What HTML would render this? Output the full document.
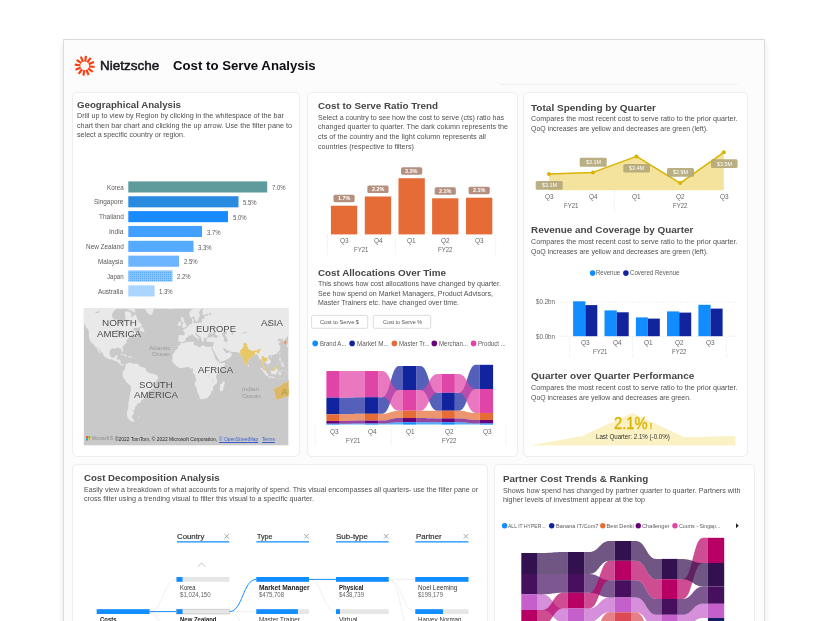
<!DOCTYPE html>
<html><head><meta charset="utf-8"><title>Cost to Serve Analysis</title>
<style>
html,body{margin:0;padding:0;background:#fff;}
body{width:828px;height:621px;overflow:hidden;position:relative;font-family:"Liberation Sans",sans-serif;}
#gfx,#txt{position:absolute;left:0;top:0;width:828px;height:621px;}
#txt{transform:translateZ(0);}
.t{position:absolute;white-space:nowrap;line-height:1;transform-origin:0 0;}
.frame{position:absolute;left:63px;top:39px;width:700px;height:620px;background:#fcfcfc;border:1px solid #d9dde1;box-shadow:0 3px 6px rgba(0,0,0,.10);}
.card{position:absolute;background:#fff;border:1px solid #eeeeee;border-radius:5px;box-sizing:border-box;}
svg{position:absolute;left:0;top:0;overflow:visible;}
</style></head>
<body>
<div id="gfx">
<div class="frame"></div>
<div style="position:absolute;left:497px;top:70px;width:242px;height:15px;border-bottom:1px solid #efefef;border-radius:0 0 5px 5px;box-sizing:border-box;"></div>
<div class="card" style="left:72px;top:92px;width:227.5px;height:365px"></div>
<div class="card" style="left:307px;top:92px;width:210.5px;height:365px"></div>
<div class="card" style="left:523px;top:92px;width:225px;height:365px"></div>
<div class="card" style="left:71.5px;top:464px;width:416.0px;height:236px"></div>
<div class="card" style="left:494px;top:464px;width:260.5px;height:236px"></div>
<svg width="828" height="621" viewBox="0 0 828 621"><defs><pattern id="dots" width="2" height="2" patternUnits="userSpaceOnUse"><rect width="2" height="2" fill="#86c3ff"/><rect width="1" height="1" fill="#5aa9f5"/></pattern></defs><rect x="128.30" y="181.40" width="138.90" height="11.10" fill="#5f9b9c" /><rect x="128.30" y="196.25" width="110.20" height="11.10" fill="#298be0" /><rect x="128.30" y="211.10" width="99.70" height="11.10" fill="#1a8aff" /><rect x="128.30" y="225.95" width="73.70" height="11.10" fill="#41a0ff" /><rect x="128.30" y="240.80" width="65.20" height="11.10" fill="#55abff" /><rect x="128.30" y="255.65" width="50.70" height="11.10" fill="#6db6ff" /><rect x="128.30" y="270.50" width="44.10" height="11.10" fill="url(#dots)" /><rect x="128.30" y="285.35" width="26.30" height="11.10" fill="#a9d5ff" /><clipPath id="mapclip"><rect x="83.6" y="308.3" width="205.00000000000003" height="137.3"/></clipPath><g clip-path="url(#mapclip)"><rect x="83.6" y="308.3" width="205.00000000000003" height="137.3" fill="#c9c9c9"/><path d="M83.6 304.1L83.6 322.0L85.9 327.0L88.6 329.9L89.0 336.8L90.6 341.7L93.7 344.4L94.5 345.8L96.4 348.0L98.4 351.4L99.9 353.9L100.3 353.0L98.4 349.3L96.4 346.7L97.6 347.1L99.9 350.5L103.0 353.9L103.8 356.3L106.9 358.3L110.0 359.6L112.4 359.4L113.9 360.6L117.4 361.8L119.0 363.3L120.2 364.8L122.5 366.0L124.1 364.8L125.2 365.6L125.6 364.8L123.7 364.3L121.7 364.8L120.6 363.3L120.7 360.2L119.4 359.4L116.7 359.6L117.0 357.5L117.8 355.1L115.3 355.5L114.7 357.3L112.0 357.7L110.8 356.7L109.5 354.3L109.9 351.4L110.8 349.3L112.4 348.2L114.7 348.6L115.9 348.7L116.3 347.7L119.0 348.0L120.2 348.0L121.2 349.7L121.9 351.4L122.9 352.0L123.3 350.5L122.3 347.5L122.9 346.0L125.2 344.0L126.6 342.9L126.4 340.7L128.0 338.5L130.3 337.3L131.1 336.8L130.5 335.8L131.8 334.5L133.4 333.9L135.4 334.2L138.1 333.2L138.1 332.1L135.4 332.1L135.0 330.4L132.6 329.6L134.2 327.9L138.9 327.8L142.0 325.8L141.6 323.9L138.9 321.7L137.3 318.6L135.4 314.2L132.6 316.7L131.1 316.4L131.5 313.4L128.7 311.4L124.8 311.4L125.2 315.0L125.6 317.9L124.1 322.0L123.3 326.6L121.7 324.5L121.3 322.0L119.0 321.3L116.7 319.7L113.5 319.3L112.0 316.4L112.4 313.4L114.7 310.2L117.8 308.0L118.6 304.1Z" fill="#e9e9e9" /><path d="M125.2 365.6L126.8 363.4L129.5 362.5L129.9 363.3L131.1 362.5L132.6 363.7L135.7 363.7L137.3 363.5L138.9 365.2L141.2 367.1L145.1 367.8L146.6 371.6L148.2 372.4L151.3 373.5L154.4 373.9L156.8 375.2L158.3 376.9L157.9 378.8L156.4 380.7L155.2 383.0L154.8 385.3L153.7 388.5L150.9 389.5L148.2 391.4L147.7 393.9L145.9 396.1L143.9 398.8L141.6 399.7L141.0 401.1L140.4 403.0L137.3 403.4L136.5 405.4L135.0 406.9L134.6 409.5L133.0 411.1L134.2 412.8L131.8 416.2L132.2 418.1L134.6 421.0L132.6 421.9L129.5 419.9L127.6 417.4L126.8 412.8L128.3 408.4L128.3 403.4L129.1 399.7L129.9 395.2L130.8 390.2L130.9 385.7L128.7 384.2L126.4 382.2L124.4 379.1L122.5 376.1L122.9 373.9L122.7 372.4L123.3 370.8L124.8 369.7L125.4 367.8L125.2 365.6Z" fill="#e9e9e9" /><path d="M172.1 360.4L172.7 357.1L172.4 355.5L174.3 352.2L175.5 350.0L177.8 348.4L178.0 346.7L180.1 344.4L181.1 342.8L184.0 343.3L186.4 342.1L189.5 341.8L193.4 341.4L194.2 341.9L193.5 344.2L194.6 345.2L197.3 346.0L199.6 347.5L201.2 346.7L201.2 345.6L203.5 345.6L205.1 346.5L208.2 347.1L210.5 346.8L212.2 346.9L211.0 348.2L212.1 350.1L213.3 353.0L214.4 355.1L214.7 357.5L216.4 360.0L219.1 362.5L219.3 363.1L222.2 363.1L225.3 362.7L225.2 364.1L223.8 367.1L221.4 369.7L218.3 372.7L216.8 374.2L216.0 376.1L216.4 378.4L217.1 380.7L217.1 383.0L214.4 385.3L212.9 386.9L213.3 390.2L211.3 391.6L211.1 393.5L209.7 395.2L207.4 397.9L205.5 398.8L202.7 398.9L201.2 399.5L199.9 398.8L199.6 397.0L198.5 393.9L197.3 392.2L196.9 388.5L194.9 384.9L194.9 382.6L196.3 379.9L195.7 378.0L195.1 376.1L194.6 374.6L192.6 372.4L193.0 370.5L193.2 369.0L192.4 368.2L190.3 368.4L189.1 366.9L186.4 367.1L184.0 367.8L182.5 367.7L179.8 368.3L178.2 367.1L175.9 365.7L175.1 364.4L173.9 363.3L172.5 362.1L172.1 360.4Z" fill="#e9e9e9" /><path d="M224.0 380.7L224.9 383.4L224.2 384.9L222.6 391.0L221.0 391.4L219.6 389.8L220.1 386.9L219.9 384.5L221.8 383.4L223.0 381.8Z" fill="#e9e9e9" /><path d="M178.6 341.7L178.2 340.1L178.7 337.8L178.4 335.8L179.4 335.1L182.5 335.3L184.3 335.4L184.7 332.6L183.7 331.2L181.9 330.1L184.4 329.6L184.2 328.5L185.8 328.7L186.9 327.1L188.3 326.5L189.3 324.5L191.1 323.9L192.4 323.4L192.0 321.3L192.0 319.3L193.8 318.3L193.5 320.6L193.2 322.0L194.0 323.3L195.3 322.9L196.7 323.4L198.5 322.6L200.0 322.4L201.0 322.7L202.0 321.7L202.0 319.3L202.7 318.4L204.3 319.0L204.5 317.5L203.9 316.2L205.9 315.7L207.4 315.7L209.0 315.1L207.8 314.1L205.9 314.4L203.5 315.1L202.3 313.9L202.3 311.1L203.1 309.2L205.1 306.8L205.3 305.7L203.0 305.4L202.2 307.5L200.4 309.9L199.1 311.9L199.0 313.8L200.2 315.0L199.9 316.2L198.6 317.2L198.4 319.7L197.9 320.6L196.7 321.4L195.6 321.4L195.3 320.2L194.8 318.6L194.3 316.4L193.8 316.0L193.0 316.7L191.4 317.9L190.0 316.9L189.5 315.0L189.5 311.9L191.1 310.2L193.0 308.9L194.2 306.8L195.3 304.1L288.4 304.1L288.4 335.6L287.3 336.3L286.6 337.8L284.9 339.1L286.3 341.7L286.3 343.3L284.9 343.9L284.0 343.8L284.2 341.7L283.0 340.9L283.1 339.3L282.4 338.8L280.4 339.8L280.2 338.1L278.3 339.6L277.3 340.1L278.3 341.4L279.6 340.9L281.0 341.7L279.5 342.6L278.5 343.5L279.5 345.3L280.5 347.1L280.0 347.7L280.6 348.4L279.9 349.7L278.8 351.6L277.5 352.8L276.4 353.9L274.4 354.4L272.8 354.9L271.5 355.5L271.3 356.0L270.9 355.2L269.7 355.1L268.6 356.0L267.9 357.2L269.0 358.9L270.4 360.0L270.7 361.8L270.5 362.9L269.0 363.8L267.6 365.0L267.2 363.8L265.8 363.3L265.6 362.4L264.3 362.0L263.9 361.4L263.5 361.5L263.0 363.3L263.0 364.6L263.7 365.6L264.3 366.5L265.3 367.0L266.1 368.1L266.2 369.6L266.8 370.5L266.2 370.6L265.4 370.1L264.5 369.4L263.8 367.8L263.7 366.7L262.7 365.7L262.2 365.6L262.3 363.7L262.6 362.5L261.9 361.0L261.8 359.4L261.2 358.7L259.8 359.6L259.1 359.4L259.2 357.9L258.6 356.5L257.5 355.6L257.0 354.3L256.1 354.2L254.9 354.7L253.4 355.2L253.0 356.1L251.8 356.7L249.7 359.0L248.2 359.6L248.1 361.5L247.8 363.8L247.1 364.6L246.5 365.0L246.0 365.5L245.2 364.8L244.6 363.1L243.8 361.4L242.9 359.4L242.4 357.1L242.2 355.5L240.8 355.6L239.4 354.4L238.8 353.4L238.0 352.6L237.4 351.9L233.5 352.1L230.2 351.7L229.8 350.5L228.2 350.9L226.5 350.1L225.2 348.8L223.8 347.7L223.0 348.1L223.5 349.4L224.6 350.8L224.8 351.8L225.7 351.5L225.8 352.9L227.7 352.9L229.5 351.2L229.6 352.6L231.2 353.4L232.2 354.3L231.2 356.0L230.5 357.1L228.6 358.5L226.3 359.4L223.8 360.8L220.7 361.8L219.5 362.0L218.9 360.0L217.5 357.5L216.0 355.1L214.7 352.6L212.9 349.7L212.7 348.4L212.3 346.8L213.3 344.9L213.6 342.6L213.6 341.9L212.1 342.3L210.5 342.1L209.4 341.9L208.2 342.1L206.9 341.7L206.1 340.2L206.4 339.3L206.0 338.7L208.2 338.3L208.3 337.6L210.0 337.5L211.7 336.8L213.0 336.8L214.0 337.5L215.6 337.9L217.9 337.3L217.9 336.1L216.5 335.2L214.8 334.0L215.4 332.6L216.2 331.3L214.8 331.9L213.1 332.3L213.3 333.4L211.7 334.2L211.7 332.6L210.3 331.9L209.2 332.8L208.6 333.7L208.0 335.0L207.4 336.8L207.6 337.5L207.3 337.9L205.9 338.1L204.3 337.9L203.9 338.6L203.3 338.4L203.8 339.8L204.3 340.7L203.5 341.2L203.4 342.1L202.5 341.9L202.1 340.7L201.2 339.2L200.6 337.0L200.0 336.3L198.1 335.3L196.9 333.5L196.2 333.0L195.2 333.4L195.2 334.4L196.3 335.3L198.1 336.9L200.0 338.6L198.8 338.3L198.5 339.9L198.1 340.7L197.8 338.8L196.9 338.1L195.3 337.3L193.8 335.9L193.4 334.8L192.4 334.3L191.4 335.0L190.4 335.7L188.7 335.3L188.0 336.3L188.1 337.0L186.1 338.0L185.4 339.3L185.8 340.0L185.1 341.0L184.0 341.9L182.1 342.0L181.4 342.5L180.7 342.0L179.8 341.5L178.6 341.7Z" fill="#e9e9e9" /><path d="M181.2 328.0L182.9 327.8L184.8 327.3L186.7 326.7L186.1 326.2L186.9 324.9L185.8 324.5L185.4 323.3L184.4 322.0L184.0 320.6L183.4 320.0L184.0 318.3L182.5 318.4L183.1 317.0L181.7 317.0L180.8 318.6L181.2 320.2L181.7 321.3L181.9 322.2L183.1 322.1L183.3 323.9L182.1 324.3L182.3 325.4L181.5 326.0L183.1 326.5L182.3 327.0L181.2 328.0Z" fill="#e9e9e9" /><path d="M177.8 326.1L179.4 326.1L180.7 325.5L180.9 323.9L181.2 322.5L180.0 321.6L179.0 322.4L177.8 323.0L178.4 324.5L177.8 326.1Z" fill="#e9e9e9" /><path d="M166.9 305.9L168.1 308.2L170.0 309.4L172.4 309.2L174.7 307.7L174.3 305.0L172.4 304.5L169.2 305.0L167.7 304.3Z" fill="#e9e9e9" /><path d="M143.5 304.1L144.7 306.8L145.9 310.2L147.4 313.0L150.5 315.1L152.1 314.5L152.9 311.9L154.1 308.6L156.0 305.7L158.3 304.1Z" fill="#e9e9e9" /><path d="M135.4 312.7L134.6 310.2L136.5 306.8L137.3 304.1L128.0 304.1L128.3 306.8L125.6 307.7L128.0 309.4L131.1 310.6L133.4 311.9Z" fill="#e9e9e9" /><path d="M274.4 388.5L274.0 390.6L274.6 392.7L275.2 395.2L275.7 397.0L275.2 399.0L277.1 399.8L279.1 398.8L281.8 398.8L283.8 397.2L286.1 396.7L288.0 396.5L289.2 397.0L289.2 380.5L288.4 380.1L287.3 381.1L286.5 382.8L285.3 382.8L284.1 382.2L283.0 383.4L281.8 384.8L280.8 385.3L280.2 386.5L278.3 386.9L276.4 387.5L274.4 388.5Z" fill="#e9e9e9" /><path d="M259.8 367.5L261.6 367.7L263.5 369.7L266.2 371.6L267.0 373.5L268.2 374.0L268.0 376.0L267.0 376.0L265.3 374.6L263.9 372.7L262.5 370.5L261.2 369.3Z" fill="#e9e9e9" /><path d="M267.6 376.7L268.6 376.1L270.1 376.6L271.9 376.4L273.4 376.9L274.8 377.5L274.8 378.1L272.1 377.9L269.7 377.5L268.4 377.2Z" fill="#e9e9e9" /><path d="M270.5 370.5L271.1 370.1L272.3 369.9L273.6 369.2L274.4 368.1L275.6 367.5L276.6 366.3L277.3 366.9L278.5 367.7L277.5 368.4L277.4 369.0L277.5 370.1L278.3 370.8L277.4 371.1L277.1 372.4L276.4 373.1L276.2 374.5L274.9 374.7L273.6 374.0L272.7 374.2L271.4 373.8L271.3 372.7L270.6 371.8Z" fill="#e9e9e9" /><path d="M278.7 375.8L278.7 374.2L278.1 373.6L278.9 371.6L279.7 370.6L282.2 370.8L283.1 370.4L282.6 371.3L279.9 371.2L279.1 372.2L280.1 372.4L281.6 372.3L280.5 373.0L281.3 374.8L280.9 375.3L280.2 375.1L279.9 373.6L279.3 373.9L279.4 375.8Z" fill="#e9e9e9" /><path d="M279.5 357.5L280.8 357.5L280.8 359.2L280.2 360.4L281.3 361.1L282.2 362.1L281.7 361.7L280.5 361.2L279.6 361.1L279.5 360.4L279.1 359.3Z" fill="#e9e9e9" /><path d="M280.7 366.3L281.8 365.1L283.4 364.3L284.1 365.6L284.1 366.9L283.3 367.3L283.1 366.3L282.2 366.0L281.4 366.0Z" fill="#e9e9e9" /><path d="M280.6 362.7L281.6 362.9L283.4 362.3L283.2 363.8L282.2 364.1L281.4 364.7L281.0 364.1Z" fill="#e9e9e9" /><path d="M276.9 365.3L278.7 363.7L278.7 363.1L277.9 363.9Z" fill="#e9e9e9" /><path d="M279.9 352.0L280.6 352.3L279.8 354.7L279.2 353.9Z" fill="#e9e9e9" /><path d="M270.3 356.9L271.1 356.2L272.1 356.4L271.6 357.5L270.5 357.6Z" fill="#e9e9e9" /><path d="M247.8 364.3L248.9 365.2L249.3 366.3L248.4 367.1L247.8 366.3Z" fill="#e9e9e9" /><path d="M281.8 379.4L283.0 378.4L284.7 377.9L283.0 379.1Z" fill="#e9e9e9" /><path d="M276.0 377.9L278.3 377.9L281.4 377.9L281.3 378.2L278.3 378.3L276.0 378.3Z" fill="#e9e9e9" /><path d="M287.5 372.2L288.6 371.9L289.2 372.2L289.2 374.2L288.4 373.7L287.6 372.7Z" fill="#e9e9e9" /><path d="M286.6 345.1L287.6 344.4L289.2 344.2L289.2 345.3L288.3 346.9L287.0 346.9L287.0 345.8Z" fill="#e9e9e9" /><path d="M284.9 370.2L285.9 370.5L285.5 372.2L285.1 371.8Z" fill="#e9e9e9" /><path d="M285.3 373.9L287.5 374.0L286.5 374.4Z" fill="#e9e9e9" /><path d="M119.4 354.7L121.7 353.7L123.7 354.3L125.6 355.1L127.8 356.1L125.2 356.4L124.8 355.7L122.9 354.7L120.9 354.7Z" fill="#e9e9e9" /><path d="M127.6 356.4L129.5 356.4L131.1 356.6L132.3 357.4L130.3 357.7L128.3 357.6L127.6 357.4L129.1 357.4Z" fill="#e9e9e9" /><path d="M124.6 357.5L126.2 357.7L125.5 358.0Z" fill="#e9e9e9" /><path d="M133.3 357.5L134.4 357.6L133.4 357.9Z" fill="#e9e9e9" /><path d="M139.4 330.8L142.0 331.5L144.3 331.9L144.5 330.8L143.5 328.7L142.2 326.4L141.0 327.3L140.0 329.3Z" fill="#e9e9e9" /><path d="M137.7 416.8L140.4 416.8L139.2 417.8Z" fill="#e9e9e9" /><path d="M222.2 333.5L223.8 331.9L225.7 331.5L226.9 332.1L226.9 333.7L225.6 334.2L224.8 335.3L225.7 336.3L226.7 337.1L226.9 338.8L227.7 339.8L227.5 341.4L226.1 342.0L224.6 341.4L223.8 340.2L224.2 338.3L222.6 335.8Z" fill="#c9c9c9" /><path d="M113.9 331.9L115.9 330.4L117.0 329.6L119.0 330.5L119.8 332.1L117.8 332.2L115.5 331.9Z" fill="#c9c9c9" /><path d="M117.2 337.1L118.2 337.0L118.6 334.8L119.4 332.8L118.6 332.7L117.4 334.2Z" fill="#c9c9c9" /><path d="M119.8 332.6L120.9 332.4L122.9 332.8L123.3 334.1L122.0 334.2L121.4 335.8L120.6 335.1L120.7 333.7Z" fill="#c9c9c9" /><path d="M120.7 337.2L122.5 337.2L124.1 336.1L123.7 335.7L126.2 335.3L126.0 334.6L123.7 335.1L123.3 335.6L120.9 336.5Z" fill="#c9c9c9" /><path d="M108.5 323.9L110.4 327.6L110.0 327.8L108.9 325.8Z" fill="#c9c9c9" /><path d="M94.5 313.0L97.6 311.6L99.9 310.7L98.4 313.1Z" fill="#c9c9c9" /><path d="M89.0 305.9L92.1 304.5L93.7 306.5L91.3 307.2Z" fill="#c9c9c9" /><path d="M209.0 313.4L210.9 312.4L211.3 314.2L209.7 315.0Z" fill="#c9c9c9" /><path d="M210.5 371.2L212.1 371.4L212.1 373.5L210.5 373.5Z" fill="#c9c9c9" /><path d="M208.4 374.2L209.4 378.0L209.7 378.0L208.8 374.2Z" fill="#c9c9c9" /><path d="M212.1 378.8L212.5 382.2L213.0 382.2L212.6 378.8Z" fill="#c9c9c9" /><path d="M266.6 324.5L270.9 321.0L271.3 322.0L267.8 326.1L266.6 326.4Z" fill="#c9c9c9" /><path d="M231.6 332.1L233.1 332.1L233.1 334.8L231.6 334.8Z" fill="#c9c9c9" /><path d="M243.2 331.9L247.1 332.1L247.1 332.6L243.2 333.2Z" fill="#c9c9c9" /><path d="M238.8 353.4L239.4 354.4L240.8 355.6L242.2 355.5L242.4 357.1L242.9 359.4L243.8 361.4L244.6 363.1L245.2 364.8L246.0 365.5L246.5 365.0L247.1 364.6L247.8 363.8L248.1 361.5L248.2 359.6L249.7 359.0L251.8 356.7L253.0 356.1L253.4 355.2L254.9 354.7L254.9 352.0L255.7 352.0L257.3 352.2L257.7 353.9L258.4 353.9L259.2 352.2L259.6 350.5L261.2 350.1L261.2 349.4L260.0 348.7L258.0 349.7L257.3 350.0L257.0 350.7L255.6 350.8L254.9 350.3L254.2 349.8L254.2 351.0L252.2 351.0L251.0 350.1L248.7 349.4L247.9 348.8L248.7 347.7L247.1 346.8L246.9 345.6L247.5 345.3L246.8 344.0L245.6 343.0L243.6 343.3L243.1 344.3L243.9 345.6L243.6 346.7L242.5 348.0L241.3 349.7L240.1 350.0L239.8 350.7L240.4 351.6L240.7 352.8L239.2 352.8Z" fill="#e8c766" /><path d="M261.6 357.5L261.9 356.5L263.5 356.0L264.0 356.7L264.4 356.7L264.4 358.1L265.1 357.7L266.1 357.5L267.2 358.3L267.2 359.2L267.9 359.7L267.6 360.7L265.8 360.8L265.4 361.3L265.7 362.4L265.6 362.4L264.3 362.0L263.9 361.4L263.5 361.5L263.0 363.3L263.0 364.6L263.7 365.6L264.3 366.5L265.1 366.9L264.4 367.3L263.7 366.7L262.7 365.7L262.2 365.6L262.3 363.7L262.6 362.5L262.9 361.8L262.1 360.2L262.4 359.0L261.6 357.5Z" fill="#e8c766" /><path d="M263.7 366.7L264.4 367.3L265.1 366.9L265.3 367.0L266.1 368.1L266.2 369.6L266.8 370.5L266.2 370.6L265.4 370.1L264.5 369.4L263.8 367.8Z" fill="#e8c766" /><path d="M271.0 370.2L272.3 369.9L273.6 369.2L274.4 368.1L275.6 367.5L276.6 366.3L277.3 366.9L278.5 367.7L277.5 368.4L276.0 368.4L275.6 369.3L274.9 370.5L273.6 370.5L272.7 370.8L271.7 370.9L271.0 370.6Z" fill="#e8c766" /><path d="M274.4 388.5L274.0 390.6L274.6 392.7L275.2 395.2L275.7 397.0L275.2 399.0L277.1 399.8L279.1 398.8L281.8 398.8L283.8 397.2L286.1 396.7L288.0 396.5L289.2 397.0L289.2 380.5L288.4 380.1L287.3 381.1L286.5 382.8L285.3 382.8L284.1 382.2L283.0 383.4L281.8 384.8L280.8 385.3L280.2 386.5L278.3 386.9L276.4 387.5L274.4 388.5Z" fill="#dcb765" /><path d="M284.0 343.8L284.9 343.9L286.3 343.3L286.3 341.7L285.5 340.2L284.3 340.8L284.2 341.7Z" fill="#ee8a55" /><circle cx="266.5" cy="370.6" r="0.8" fill="#e8c766"/></g><g clip-path="url(#mapclip)"><text x="281.3" y="394.8" font-family="Liberation Sans" font-size="9.6" fill="#a59636">AUSTRALIA</text></g><rect x="86.00" y="436.20" width="2.00" height="2.00" fill="#f25022" /><rect x="88.30" y="436.20" width="2.00" height="2.00" fill="#7fba00" /><rect x="86.00" y="438.50" width="2.00" height="2.00" fill="#00a4ef" /><rect x="88.30" y="438.50" width="2.00" height="2.00" fill="#ffb900" /><rect x="330.90" y="205.70" width="26.30" height="28.70" fill="#e66c37" /><rect x="333.45" y="194.70" width="21.2" height="7.5" rx="1.6" fill="#b4917f"/><rect x="364.80" y="196.50" width="26.30" height="37.90" fill="#e66c37" /><rect x="367.35" y="185.50" width="21.2" height="7.5" rx="1.6" fill="#b4917f"/><rect x="398.50" y="178.20" width="26.30" height="56.20" fill="#e66c37" /><rect x="401.05" y="167.20" width="21.2" height="7.5" rx="1.6" fill="#b4917f"/><rect x="432.10" y="198.30" width="26.30" height="36.10" fill="#e66c37" /><rect x="434.65" y="187.30" width="21.2" height="7.5" rx="1.6" fill="#b4917f"/><rect x="466.00" y="197.70" width="26.30" height="36.70" fill="#e66c37" /><rect x="468.55" y="186.70" width="21.2" height="7.5" rx="1.6" fill="#b4917f"/><line x1="327.5" y1="235" x2="327.5" y2="256.5" stroke="#d6d6d6" stroke-width="0.7" stroke-dasharray="0.8 1.6"/><line x1="395.4" y1="235" x2="395.4" y2="256.5" stroke="#d6d6d6" stroke-width="0.7" stroke-dasharray="0.8 1.6"/><line x1="495.7" y1="235" x2="495.7" y2="256.5" stroke="#d6d6d6" stroke-width="0.7" stroke-dasharray="0.8 1.6"/><rect x="311.6" y="315.4" width="56.099999999999966" height="12.9" rx="1.5" fill="#fff" stroke="#cfcfcf" stroke-width="0.7"/><rect x="373.3" y="315.4" width="57.39999999999998" height="12.9" rx="1.5" fill="#fff" stroke="#cfcfcf" stroke-width="0.7"/><circle cx="315.2" cy="343.4" r="2.8" fill="#118dff"/><circle cx="352.1" cy="343.4" r="2.8" fill="#12239e"/><circle cx="394.4" cy="343.4" r="2.8" fill="#e66c37"/><circle cx="434.3" cy="343.4" r="2.8" fill="#6b007b"/><circle cx="473.6" cy="343.4" r="2.8" fill="#e044a7"/><path d="M339.70 423.70L343.73 423.70C352.30 423.70 352.30 423.50 360.87 423.50L364.90 423.50L364.90 424.60L360.87 424.60C352.30 424.60 352.30 424.60 343.73 424.60L339.70 424.60Z" fill="#118dff" fill-opacity="0.72"/><path d="M339.70 397.70L343.73 397.70C352.30 397.70 352.30 397.20 360.87 397.20L364.90 397.20L364.90 413.80L360.87 413.80C352.30 413.80 352.30 414.30 343.73 414.30L339.70 414.30Z" fill="#12239e" fill-opacity="0.72"/><path d="M339.70 414.30L343.73 414.30C352.30 414.30 352.30 413.80 360.87 413.80L364.90 413.80L364.90 420.60L360.87 420.60C352.30 420.60 352.30 421.00 343.73 421.00L339.70 421.00Z" fill="#e66c37" fill-opacity="0.72"/><path d="M339.70 421.00L343.73 421.00C352.30 421.00 352.30 420.60 360.87 420.60L364.90 420.60L364.90 423.50L360.87 423.50C352.30 423.50 352.30 423.70 343.73 423.70L339.70 423.70Z" fill="#6b007b" fill-opacity="0.72"/><path d="M339.70 371.00L343.73 371.00C352.30 371.00 352.30 371.00 360.87 371.00L364.90 371.00L364.90 397.20L360.87 397.20C352.30 397.20 352.30 397.70 343.73 397.70L339.70 397.70Z" fill="#e044a7" fill-opacity="0.72"/><path d="M378.20 423.50L382.17 423.50C390.60 423.50 390.60 422.30 399.03 422.30L403.00 422.30L403.00 424.60L399.03 424.60C390.60 424.60 390.60 424.60 382.17 424.60L378.20 424.60Z" fill="#118dff" fill-opacity="0.72"/><path d="M378.20 397.20L382.17 397.20C390.60 397.20 390.60 366.00 399.03 366.00L403.00 366.00L403.00 390.00L399.03 390.00C390.60 390.00 390.60 413.80 382.17 413.80L378.20 413.80Z" fill="#12239e" fill-opacity="0.72"/><path d="M378.20 413.80L382.17 413.80C390.60 413.80 390.60 410.70 399.03 410.70L403.00 410.70L403.00 418.00L399.03 418.00C390.60 418.00 390.60 420.60 382.17 420.60L378.20 420.60Z" fill="#e66c37" fill-opacity="0.72"/><path d="M378.20 420.60L382.17 420.60C390.60 420.60 390.60 418.00 399.03 418.00L403.00 418.00L403.00 422.30L399.03 422.30C390.60 422.30 390.60 423.50 382.17 423.50L378.20 423.50Z" fill="#6b007b" fill-opacity="0.72"/><path d="M378.20 371.00L382.17 371.00C390.60 371.00 390.60 390.00 399.03 390.00L403.00 390.00L403.00 410.70L399.03 410.70C390.60 410.70 390.60 397.20 382.17 397.20L378.20 397.20Z" fill="#e044a7" fill-opacity="0.72"/><path d="M416.30 422.30L420.33 422.30C428.90 422.30 428.90 422.30 437.47 422.30L441.50 422.30L441.50 424.60L437.47 424.60C428.90 424.60 428.90 424.60 420.33 424.60L416.30 424.60Z" fill="#118dff" fill-opacity="0.72"/><path d="M416.30 366.00L420.33 366.00C428.90 366.00 428.90 392.80 437.47 392.80L441.50 392.80L441.50 410.70L437.47 410.70C428.90 410.70 428.90 390.00 420.33 390.00L416.30 390.00Z" fill="#12239e" fill-opacity="0.72"/><path d="M416.30 410.70L420.33 410.70C428.90 410.70 428.90 410.70 437.47 410.70L441.50 410.70L441.50 418.40L437.47 418.40C428.90 418.40 428.90 418.00 420.33 418.00L416.30 418.00Z" fill="#e66c37" fill-opacity="0.72"/><path d="M416.30 418.00L420.33 418.00C428.90 418.00 428.90 418.40 437.47 418.40L441.50 418.40L441.50 422.30L437.47 422.30C428.90 422.30 428.90 422.30 420.33 422.30L416.30 422.30Z" fill="#6b007b" fill-opacity="0.72"/><path d="M416.30 390.00L420.33 390.00C428.90 390.00 428.90 374.00 437.47 374.00L441.50 374.00L441.50 392.80L437.47 392.80C428.90 392.80 428.90 410.70 420.33 410.70L416.30 410.70Z" fill="#e044a7" fill-opacity="0.72"/><path d="M454.80 422.30L458.80 422.30C467.30 422.30 467.30 423.50 475.80 423.50L479.80 423.50L479.80 424.60L475.80 424.60C467.30 424.60 467.30 424.60 458.80 424.60L454.80 424.60Z" fill="#118dff" fill-opacity="0.72"/><path d="M454.80 392.80L458.80 392.80C467.30 392.80 467.30 364.80 475.80 364.80L479.80 364.80L479.80 389.00L475.80 389.00C467.30 389.00 467.30 410.70 458.80 410.70L454.80 410.70Z" fill="#12239e" fill-opacity="0.72"/><path d="M454.80 410.70L458.80 410.70C467.30 410.70 467.30 413.00 475.80 413.00L479.80 413.00L479.80 420.00L475.80 420.00C467.30 420.00 467.30 418.40 458.80 418.40L454.80 418.40Z" fill="#e66c37" fill-opacity="0.72"/><path d="M454.80 418.40L458.80 418.40C467.30 418.40 467.30 420.00 475.80 420.00L479.80 420.00L479.80 423.50L475.80 423.50C467.30 423.50 467.30 422.30 458.80 422.30L454.80 422.30Z" fill="#6b007b" fill-opacity="0.72"/><path d="M454.80 374.00L458.80 374.00C467.30 374.00 467.30 389.00 475.80 389.00L479.80 389.00L479.80 413.00L475.80 413.00C467.30 413.00 467.30 392.80 458.80 392.80L454.80 392.80Z" fill="#e044a7" fill-opacity="0.72"/><rect x="326.40" y="371.00" width="13.30" height="26.70" fill="#e044a7"/><rect x="326.40" y="397.70" width="13.30" height="16.60" fill="#12239e"/><rect x="326.40" y="414.30" width="13.30" height="6.70" fill="#e66c37"/><rect x="326.40" y="421.00" width="13.30" height="2.70" fill="#6b007b"/><rect x="326.40" y="423.70" width="13.30" height="0.90" fill="#118dff"/><rect x="364.90" y="371.00" width="13.30" height="26.20" fill="#e044a7"/><rect x="364.90" y="397.20" width="13.30" height="16.60" fill="#12239e"/><rect x="364.90" y="413.80" width="13.30" height="6.80" fill="#e66c37"/><rect x="364.90" y="420.60" width="13.30" height="2.90" fill="#6b007b"/><rect x="364.90" y="423.50" width="13.30" height="1.10" fill="#118dff"/><rect x="403.00" y="366.00" width="13.30" height="24.00" fill="#12239e"/><rect x="403.00" y="390.00" width="13.30" height="20.70" fill="#e044a7"/><rect x="403.00" y="410.70" width="13.30" height="7.30" fill="#e66c37"/><rect x="403.00" y="418.00" width="13.30" height="4.30" fill="#6b007b"/><rect x="403.00" y="422.30" width="13.30" height="2.30" fill="#118dff"/><rect x="441.50" y="374.00" width="13.30" height="18.80" fill="#e044a7"/><rect x="441.50" y="392.80" width="13.30" height="17.90" fill="#12239e"/><rect x="441.50" y="410.70" width="13.30" height="7.70" fill="#e66c37"/><rect x="441.50" y="418.40" width="13.30" height="3.90" fill="#6b007b"/><rect x="441.50" y="422.30" width="13.30" height="2.30" fill="#118dff"/><rect x="479.80" y="364.80" width="13.30" height="24.20" fill="#12239e"/><rect x="479.80" y="389.00" width="13.30" height="24.00" fill="#e044a7"/><rect x="479.80" y="413.00" width="13.30" height="7.00" fill="#e66c37"/><rect x="479.80" y="420.00" width="13.30" height="3.50" fill="#6b007b"/><rect x="479.80" y="423.50" width="13.30" height="1.10" fill="#118dff"/><line x1="315" y1="425.5" x2="315" y2="446" stroke="#d6d6d6" stroke-width="0.7" stroke-dasharray="0.8 1.6"/><line x1="391.3" y1="425.5" x2="391.3" y2="446" stroke="#d6d6d6" stroke-width="0.7" stroke-dasharray="0.8 1.6"/><line x1="506" y1="425.5" x2="506" y2="446" stroke="#d6d6d6" stroke-width="0.7" stroke-dasharray="0.8 1.6"/><path d="M548.9 174L592.9 172.4L636.5 156.4L680.2 183.1L723.8 152.3L723.8 190.3L548.9 190.3Z" fill="#f3e39c"/><path d="M548.9 174L592.9 172.4L636.5 156.4L680.2 183.1L723.8 152.3" fill="none" stroke="#d9b300" stroke-width="1.5" stroke-linejoin="round"/><circle cx="548.9" cy="174" r="2" fill="#d9b300"/><circle cx="592.9" cy="172.4" r="2" fill="#d9b300"/><circle cx="636.5" cy="156.4" r="2" fill="#d9b300"/><circle cx="680.2" cy="183.1" r="2" fill="#d9b300"/><circle cx="723.8" cy="152.3" r="2" fill="#d9b300"/><rect x="535.7" y="180.9" width="27.0" height="8.799999999999983" rx="1.5" fill="#b3a878" fill-opacity="0.92"/><rect x="579.7" y="157.8" width="27.0" height="9.0" rx="1.5" fill="#b3a878" fill-opacity="0.92"/><rect x="623.3" y="163.9" width="26.700000000000045" height="8.699999999999989" rx="1.5" fill="#b3a878" fill-opacity="0.92"/><rect x="667" y="168" width="27" height="8.800000000000011" rx="1.5" fill="#b3a878" fill-opacity="0.92"/><rect x="711" y="159.2" width="26.600000000000023" height="8.700000000000017" rx="1.5" fill="#b3a878" fill-opacity="0.92"/><line x1="614.6" y1="191" x2="614.6" y2="212" stroke="#d6d6d6" stroke-width="0.7" stroke-dasharray="0.8 1.6"/><circle cx="592.6" cy="273.1" r="2.8" fill="#118dff"/><circle cx="625.9" cy="273.1" r="2.8" fill="#12239e"/><line x1="560" y1="302" x2="737.6" y2="302" stroke="#d6d6d6" stroke-width="0.7" stroke-dasharray="0.8 1.6"/><line x1="560" y1="336.2" x2="737.6" y2="336.2" stroke="#d6d6d6" stroke-width="0.7" stroke-dasharray="0.8 1.6"/><rect x="573.10" y="301.30" width="12.30" height="34.90" fill="#118dff" /><rect x="585.40" y="305.10" width="11.90" height="31.10" fill="#12239e" /><rect x="604.50" y="310.40" width="12.30" height="25.80" fill="#118dff" /><rect x="616.80" y="312.30" width="11.90" height="23.90" fill="#12239e" /><rect x="635.90" y="317.40" width="11.90" height="18.80" fill="#118dff" /><rect x="647.80" y="318.60" width="12.00" height="17.60" fill="#12239e" /><rect x="667.00" y="311.40" width="12.20" height="24.80" fill="#118dff" /><rect x="679.20" y="312.60" width="12.00" height="23.60" fill="#12239e" /><rect x="698.40" y="304.80" width="12.20" height="31.40" fill="#118dff" /><rect x="710.60" y="308.60" width="12.00" height="27.60" fill="#12239e" /><line x1="569.7" y1="337" x2="569.7" y2="358" stroke="#d6d6d6" stroke-width="0.7" stroke-dasharray="0.8 1.6"/><line x1="632.4" y1="337" x2="632.4" y2="358" stroke="#d6d6d6" stroke-width="0.7" stroke-dasharray="0.8 1.6"/><line x1="726.6" y1="337" x2="726.6" y2="358" stroke="#d6d6d6" stroke-width="0.7" stroke-dasharray="0.8 1.6"/><path d="M530.4 445.4L582.2 436L632.4 413L684.3 437.3L735.4 436L735.4 445.4Z" fill="#faf1c4"/><line x1="177" y1="541.9" x2="229.3" y2="541.9" stroke="#118dff" stroke-width="1.1"/><path d="M224.4 534L229.00000000000003 538.6M229.00000000000003 534L224.4 538.6" stroke="#8c8c8c" stroke-width="0.75" fill="none"/><line x1="256.3" y1="541.9" x2="309" y2="541.9" stroke="#118dff" stroke-width="1.1"/><path d="M304.09999999999997 534L308.7 538.6M308.7 534L304.09999999999997 538.6" stroke="#8c8c8c" stroke-width="0.75" fill="none"/><line x1="336" y1="541.9" x2="388.7" y2="541.9" stroke="#118dff" stroke-width="1.1"/><path d="M383.79999999999995 534L388.4 538.6M388.4 534L383.79999999999995 538.6" stroke="#8c8c8c" stroke-width="0.75" fill="none"/><line x1="415.3" y1="541.9" x2="468.5" y2="541.9" stroke="#118dff" stroke-width="1.1"/><path d="M463.59999999999997 534L468.2 538.6M468.2 534L463.59999999999997 538.6" stroke="#8c8c8c" stroke-width="0.75" fill="none"/><path d="M197.8 566.9L201.6 562.9L205.4 566.9" stroke="#b5b5b5" stroke-width="0.8" fill="none"/><path d="M149.6 611.6C163.05 611.6 163.05 579.4 176.5 579.4" stroke="#e9e9e9" stroke-width="0.7" fill="none"/><path d="M149.6 611.6C163.05 611.6 163.05 643.8 176.5 643.8" stroke="#e9e9e9" stroke-width="0.7" fill="none"/><path d="M149.6 611.6C163.05 611.6 163.05 675.8 176.5 675.8" stroke="#e9e9e9" stroke-width="0.7" fill="none"/><path d="M229.4 611.6L256.3 611.6" stroke="#e9e9e9" stroke-width="0.7" fill="none"/><path d="M229.4 611.6C242.85000000000002 611.6 242.85000000000002 643.8 256.3 643.8" stroke="#e9e9e9" stroke-width="0.7" fill="none"/><path d="M309 579.4C322.5 579.4 322.5 611.6 336 611.6" stroke="#e9e9e9" stroke-width="0.7" fill="none"/><path d="M388.7 579.4L415.3 579.4" stroke="#e9e9e9" stroke-width="0.7" fill="none"/><path d="M388.7 579.4C402.0 579.4 402.0 611.6 415.3 611.6" stroke="#e9e9e9" stroke-width="0.7" fill="none"/><path d="M388.7 579.4C402.0 579.4 402.0 643.8 415.3 643.8" stroke="#e9e9e9" stroke-width="0.7" fill="none"/><path d="M149.6 611.6L176.5 611.6" stroke="#118dff" stroke-width="1.0" fill="none"/><path d="M229.4 611.6C242.85000000000002 611.6 242.85000000000002 579.4 256.3 579.4" stroke="#118dff" stroke-width="1.0" fill="none"/><path d="M309 579.4L336 579.4" stroke="#118dff" stroke-width="1.0" fill="none"/><rect x="176.50" y="577.00" width="52.90" height="4.80" fill="#e6e6e6" /><rect x="176.50" y="577.00" width="6.08" height="4.80" fill="#118dff" /><rect x="256.30" y="577.00" width="52.70" height="4.80" fill="#e6e6e6" /><rect x="256.30" y="577.00" width="52.70" height="4.80" fill="#118dff" /><rect x="336.00" y="577.00" width="52.70" height="4.80" fill="#e6e6e6" /><rect x="336.00" y="577.00" width="52.70" height="4.80" fill="#118dff" /><rect x="415.30" y="577.00" width="53.20" height="4.80" fill="#e6e6e6" /><rect x="415.30" y="577.00" width="53.20" height="4.80" fill="#118dff" /><rect x="96.70" y="609.20" width="52.90" height="4.80" fill="#e6e6e6" /><rect x="96.70" y="609.20" width="52.90" height="4.80" fill="#118dff" /><rect x="176.50" y="609.20" width="52.90" height="4.80" fill="#e6e6e6" stroke="#bdbdbd" stroke-width="0.6"/><rect x="176.50" y="609.20" width="6.08" height="4.80" fill="#118dff" /><rect x="256.30" y="609.20" width="52.70" height="4.80" fill="#e6e6e6" /><rect x="256.30" y="609.20" width="41.63" height="4.80" fill="#118dff" /><rect x="336.00" y="609.20" width="52.70" height="4.80" fill="#e6e6e6" /><rect x="336.00" y="609.20" width="3.95" height="4.80" fill="#118dff" /><rect x="415.30" y="609.20" width="53.20" height="4.80" fill="#e6e6e6" /><rect x="415.30" y="609.20" width="27.66" height="4.80" fill="#118dff" /><circle cx="504.6" cy="525.7" r="2.7" fill="#118dff"/><circle cx="551.7" cy="525.7" r="2.7" fill="#12239e"/><circle cx="602.8" cy="525.7" r="2.7" fill="#e66c37"/><circle cx="638.3" cy="525.7" r="2.7" fill="#6b007b"/><circle cx="675" cy="525.7" r="2.7" fill="#e044a7"/><path d="M736 523.2L738.8 525.7L736 528.2Z" fill="#222"/><path d="M537.60 625.00L542.45 625.00C552.75 625.00 552.75 622.00 563.05 622.00L567.90 622.00L567.90 636.00L563.05 636.00C552.75 636.00 552.75 640.00 542.45 640.00L537.60 640.00Z" fill="#d98be0" fill-opacity="0.7"/><path d="M537.60 594.40L542.45 594.40C552.75 594.40 552.75 608.50 563.05 608.50L567.90 608.50L567.90 622.00L563.05 622.00C552.75 622.00 552.75 610.00 542.45 610.00L537.60 610.00Z" fill="#c45fcb" fill-opacity="0.7"/><path d="M537.60 574.00L542.45 574.00C552.75 574.00 552.75 574.00 563.05 574.00L567.90 574.00L567.90 592.80L563.05 592.80C552.75 592.80 552.75 594.40 542.45 594.40L537.60 594.40Z" fill="#46105f" fill-opacity="0.7"/><path d="M537.60 610.00L542.45 610.00C552.75 610.00 552.75 592.80 563.05 592.80L567.90 592.80L567.90 608.50L563.05 608.50C552.75 608.50 552.75 625.00 542.45 625.00L537.60 625.00Z" fill="#b80064" fill-opacity="0.7"/><path d="M537.60 553.00L542.45 553.00C552.75 553.00 552.75 552.00 563.05 552.00L567.90 552.00L567.90 574.00L563.05 574.00C552.75 574.00 552.75 574.00 542.45 574.00L537.60 574.00Z" fill="#33104f" fill-opacity="0.7"/><path d="M584.20 622.00L589.08 622.00C599.45 622.00 599.45 628.00 609.82 628.00L614.70 628.00L614.70 640.00L609.82 640.00C599.45 640.00 599.45 636.00 589.08 636.00L584.20 636.00Z" fill="#d98be0" fill-opacity="0.7"/><path d="M584.20 608.50L589.08 608.50C599.45 608.50 599.45 597.50 609.82 597.50L614.70 597.50L614.70 612.30L609.82 612.30C599.45 612.30 599.45 622.00 589.08 622.00L584.20 622.00Z" fill="#c45fcb" fill-opacity="0.7"/><path d="M584.20 636.00L589.08 636.00C599.45 636.00 599.45 612.30 609.82 612.30L614.70 612.30L614.70 628.00L609.82 628.00C599.45 628.00 599.45 650.00 589.08 650.00L584.20 650.00Z" fill="#dc4a56" fill-opacity="0.7"/><path d="M584.20 574.00L589.08 574.00C599.45 574.00 599.45 580.20 609.82 580.20L614.70 580.20L614.70 597.50L609.82 597.50C599.45 597.50 599.45 592.80 589.08 592.80L584.20 592.80Z" fill="#46105f" fill-opacity="0.7"/><path d="M584.20 592.80L589.08 592.80C599.45 592.80 599.45 560.80 609.82 560.80L614.70 560.80L614.70 580.20L609.82 580.20C599.45 580.20 599.45 608.50 589.08 608.50L584.20 608.50Z" fill="#b80064" fill-opacity="0.7"/><path d="M584.20 552.00L589.08 552.00C599.45 552.00 599.45 541.00 609.82 541.00L614.70 541.00L614.70 560.80L609.82 560.80C599.45 560.80 599.45 574.00 589.08 574.00L584.20 574.00Z" fill="#33104f" fill-opacity="0.7"/><path d="M631.00 628.00L635.86 628.00C646.20 628.00 646.20 628.00 656.54 628.00L661.40 628.00L661.40 640.00L656.54 640.00C646.20 640.00 646.20 640.00 635.86 640.00L631.00 640.00Z" fill="#d98be0" fill-opacity="0.7"/><path d="M631.00 597.50L635.86 597.50C646.20 597.50 646.20 614.80 656.54 614.80L661.40 614.80L661.40 628.00L656.54 628.00C646.20 628.00 646.20 612.30 635.86 612.30L631.00 612.30Z" fill="#c45fcb" fill-opacity="0.7"/><path d="M631.00 612.30L635.86 612.30C646.20 612.30 646.20 640.00 656.54 640.00L661.40 640.00L661.40 652.00L656.54 652.00C646.20 652.00 646.20 628.00 635.86 628.00L631.00 628.00Z" fill="#dc4a56" fill-opacity="0.7"/><path d="M631.00 580.20L635.86 580.20C646.20 580.20 646.20 599.00 656.54 599.00L661.40 599.00L661.40 614.80L656.54 614.80C646.20 614.80 646.20 597.50 635.86 597.50L631.00 597.50Z" fill="#46105f" fill-opacity="0.7"/><path d="M631.00 560.80L635.86 560.80C646.20 560.80 646.20 579.30 656.54 579.30L661.40 579.30L661.40 599.00L656.54 599.00C646.20 599.00 646.20 580.20 635.86 580.20L631.00 580.20Z" fill="#b80064" fill-opacity="0.7"/><path d="M631.00 541.00L635.86 541.00C646.20 541.00 646.20 558.90 656.54 558.90L661.40 558.90L661.40 579.30L656.54 579.30C646.20 579.30 646.20 560.80 635.86 560.80L631.00 560.80Z" fill="#33104f" fill-opacity="0.7"/><path d="M677.70 628.00L682.53 628.00C692.80 628.00 692.80 630.00 703.07 630.00L707.90 630.00L707.90 640.00L703.07 640.00C692.80 640.00 692.80 640.00 682.53 640.00L677.70 640.00Z" fill="#d98be0" fill-opacity="0.7"/><path d="M677.70 614.80L682.53 614.80C692.80 614.80 692.80 603.80 703.07 603.80L707.90 603.80L707.90 618.00L703.07 618.00C692.80 618.00 692.80 628.00 682.53 628.00L677.70 628.00Z" fill="#c45fcb" fill-opacity="0.7"/><path d="M677.70 599.00L682.53 599.00C692.80 599.00 692.80 586.50 703.07 586.50L707.90 586.50L707.90 603.80L703.07 603.80C692.80 603.80 692.80 614.80 682.53 614.80L677.70 614.80Z" fill="#46105f" fill-opacity="0.7"/><path d="M677.70 579.30L682.53 579.30C692.80 579.30 692.80 537.80 703.07 537.80L707.90 537.80L707.90 563.00L703.07 563.00C692.80 563.00 692.80 599.00 682.53 599.00L677.70 599.00Z" fill="#b80064" fill-opacity="0.7"/><path d="M677.70 558.90L682.53 558.90C692.80 558.90 692.80 563.00 703.07 563.00L707.90 563.00L707.90 586.50L703.07 586.50C692.80 586.50 692.80 579.30 682.53 579.30L677.70 579.30Z" fill="#33104f" fill-opacity="0.7"/><rect x="521.30" y="553.00" width="16.30" height="21.00" fill="#33104f"/><rect x="521.30" y="574.00" width="16.30" height="20.40" fill="#46105f"/><rect x="521.30" y="594.40" width="16.30" height="15.60" fill="#c45fcb"/><rect x="521.30" y="610.00" width="16.30" height="15.00" fill="#b80064"/><rect x="521.30" y="625.00" width="16.30" height="15.00" fill="#d98be0"/><rect x="567.90" y="552.00" width="16.30" height="22.00" fill="#33104f"/><rect x="567.90" y="574.00" width="16.30" height="18.80" fill="#46105f"/><rect x="567.90" y="592.80" width="16.30" height="15.70" fill="#b80064"/><rect x="567.90" y="608.50" width="16.30" height="13.50" fill="#c45fcb"/><rect x="567.90" y="622.00" width="16.30" height="14.00" fill="#d98be0"/><rect x="567.90" y="636.00" width="16.30" height="14.00" fill="#dc4a56"/><rect x="614.70" y="541.00" width="16.30" height="19.80" fill="#33104f"/><rect x="614.70" y="560.80" width="16.30" height="19.40" fill="#b80064"/><rect x="614.70" y="580.20" width="16.30" height="17.30" fill="#46105f"/><rect x="614.70" y="597.50" width="16.30" height="14.80" fill="#c45fcb"/><rect x="614.70" y="612.30" width="16.30" height="15.70" fill="#dc4a56"/><rect x="614.70" y="628.00" width="16.30" height="12.00" fill="#d98be0"/><rect x="661.40" y="558.90" width="16.30" height="20.40" fill="#33104f"/><rect x="661.40" y="579.30" width="16.30" height="19.70" fill="#b80064"/><rect x="661.40" y="599.00" width="16.30" height="15.80" fill="#46105f"/><rect x="661.40" y="614.80" width="16.30" height="13.20" fill="#c45fcb"/><rect x="661.40" y="628.00" width="16.30" height="12.00" fill="#d98be0"/><rect x="661.40" y="640.00" width="16.30" height="12.00" fill="#dc4a56"/><rect x="707.90" y="537.80" width="16.30" height="25.20" fill="#b80064"/><rect x="707.90" y="563.00" width="16.30" height="23.50" fill="#33104f"/><rect x="707.90" y="586.50" width="16.30" height="17.30" fill="#46105f"/><rect x="707.90" y="603.80" width="16.30" height="14.20" fill="#c45fcb"/><rect x="707.90" y="618.00" width="16.30" height="12.00" fill="#10205f"/><rect x="707.90" y="630.00" width="16.30" height="10.00" fill="#d98be0"/></svg>
<svg width="828" height="621"><path d="M88.97 66.32L94.63 67.02M88.13 68.39L92.69 71.82M86.38 69.76L88.61 75.01M84.18 70.07L83.48 75.73M82.11 69.23L78.68 73.79M80.74 67.48L75.49 69.71M80.43 65.28L74.77 64.58M81.27 63.21L76.71 59.78M83.02 61.84L80.79 56.59M85.22 61.53L85.92 55.87M87.29 62.37L90.72 57.81M88.66 64.12L93.91 61.89" stroke="#fc3f0e" stroke-width="2.2" fill="none"/></svg>

</div>
<div id="txt">
<span class="t" style="left:100.30px;top:59.00px;font-size:13.3px;color:#16161d;transform:scaleX(1.0156);-webkit-text-stroke:0.5px #16161d;">Nietzsche</span>
<span class="t" style="left:173.10px;top:59.00px;font-size:13.4px;color:#0c0c12;font-weight:700;transform:scaleX(0.9867);">Cost to Serve Analysis</span>
<span class="t" style="left:77.00px;top:101.00px;font-size:9.0px;color:#454545;font-weight:700;transform:scaleX(1.0755);">Geographical Analysis</span>
<span class="t" style="left:77.00px;top:112.00px;font-size:7.3px;color:#505050;transform:scaleX(0.9890);">Drill up to view by Region by clicking in the whitespace of the bar</span>
<span class="t" style="left:77.00px;top:122.00px;font-size:7.3px;color:#505050;transform:scaleX(0.9907);">chart then bar chart and clicking the up arrow. Use the filter pane to</span>
<span class="t" style="left:77.00px;top:131.00px;font-size:7.3px;color:#505050;transform:scaleX(0.9789);">select a specific country or region.</span>
<span class="t" style="left:317.90px;top:102.00px;font-size:9.0px;color:#454545;font-weight:700;transform:scaleX(1.0906);">Cost to Serve Ratio Trend</span>
<span class="t" style="left:317.90px;top:114.00px;font-size:7.3px;color:#505050;transform:scaleX(0.9716);">Select a country to see how the cost to serve (cts) ratio has</span>
<span class="t" style="left:317.90px;top:123.00px;font-size:7.3px;color:#505050;transform:scaleX(0.9847);">changed quarter to quarter. The dark column represents the</span>
<span class="t" style="left:317.90px;top:133.00px;font-size:7.3px;color:#505050;transform:scaleX(0.9956);">cts of the country and the light column represents all</span>
<span class="t" style="left:317.90px;top:143.00px;font-size:7.3px;color:#505050;transform:scaleX(0.9864);">countries (respective to filters)</span>
<span class="t" style="left:318.00px;top:269.00px;font-size:9.0px;color:#454545;font-weight:700;transform:scaleX(1.0937);">Cost Allocations Over Time</span>
<span class="t" style="left:318.00px;top:280.00px;font-size:7.3px;color:#505050;transform:scaleX(0.9723);">This shows how cost allocations have changed by quarter.</span>
<span class="t" style="left:318.00px;top:290.00px;font-size:7.3px;color:#505050;transform:scaleX(0.9717);">See how spend on Market Managers, Product Advisors,</span>
<span class="t" style="left:318.00px;top:299.00px;font-size:7.3px;color:#505050;transform:scaleX(0.9630);">Master Trainers etc. have changed over time.</span>
<span class="t" style="left:531.30px;top:104.00px;font-size:9.0px;color:#454545;font-weight:700;transform:scaleX(1.1127);">Total Spending by Quarter</span>
<span class="t" style="left:531.30px;top:115.00px;font-size:7.3px;color:#505050;transform:scaleX(0.9867);">Compares the most recent cost to serve ratio to the prior quarter.</span>
<span class="t" style="left:531.30px;top:125.00px;font-size:7.3px;color:#505050;transform:scaleX(0.9549);">QoQ increases are yellow and decreases are green (left).</span>
<span class="t" style="left:531.30px;top:226.00px;font-size:9.0px;color:#454545;font-weight:700;transform:scaleX(1.0999);">Revenue and Coverage by Quarter</span>
<span class="t" style="left:531.30px;top:238.00px;font-size:7.3px;color:#505050;transform:scaleX(0.9867);">Compares the most recent cost to serve ratio to the prior quarter.</span>
<span class="t" style="left:531.30px;top:248.00px;font-size:7.3px;color:#505050;transform:scaleX(0.9549);">QoQ increases are yellow and decreases are green (left).</span>
<span class="t" style="left:531.30px;top:372.00px;font-size:9.0px;color:#454545;font-weight:700;transform:scaleX(1.1142);">Quarter over Quarter Performance</span>
<span class="t" style="left:531.30px;top:384.00px;font-size:7.3px;color:#505050;transform:scaleX(0.9867);">Compares the most recent cost to serve ratio to the prior quarter.</span>
<span class="t" style="left:531.30px;top:394.00px;font-size:7.3px;color:#505050;transform:scaleX(0.9482);">QoQ increases are yellow and decreases are green.</span>
<span class="t" style="left:84.00px;top:474.00px;font-size:9.0px;color:#454545;font-weight:700;transform:scaleX(1.0702);">Cost Decomposition Analysis</span>
<span class="t" style="left:84.00px;top:486.00px;font-size:7.3px;color:#505050;transform:scaleX(0.9718);">Easily view a breakdown of what accounts for a majority of spend. This visual encompasses all quarters- use the filter pane or</span>
<span class="t" style="left:84.00px;top:495.00px;font-size:7.3px;color:#505050;transform:scaleX(0.9863);">cross filter using a trending visual to filter this visual to a specific quarter.</span>
<span class="t" style="left:503.00px;top:475.00px;font-size:9.0px;color:#454545;font-weight:700;transform:scaleX(1.0922);">Partner Cost Trends &amp; Ranking</span>
<span class="t" style="left:503.00px;top:487.00px;font-size:7.3px;color:#505050;transform:scaleX(0.9791);">Shows how spend has changed by partner quarter to quarter. Partners with</span>
<span class="t" style="left:503.00px;top:496.00px;font-size:7.3px;color:#505050;transform:scaleX(0.9889);">higher levels of investment appear at the top</span>
<span class="t" style="left:106.80px;top:185.00px;font-size:6.8px;color:#5a5a5a;transform:scaleX(0.9151);">Korea</span>
<span class="t" style="left:271.80px;top:185.00px;font-size:6.8px;color:#5a5a5a;transform:scaleX(0.8774);">7.0%</span>
<span class="t" style="left:94.10px;top:199.00px;font-size:6.8px;color:#5a5a5a;transform:scaleX(0.9452);">Singapore</span>
<span class="t" style="left:243.10px;top:200.00px;font-size:6.8px;color:#5a5a5a;transform:scaleX(0.8774);">5.5%</span>
<span class="t" style="left:98.60px;top:214.00px;font-size:6.8px;color:#5a5a5a;transform:scaleX(0.9510);">Thailand</span>
<span class="t" style="left:232.60px;top:215.00px;font-size:6.8px;color:#5a5a5a;transform:scaleX(0.8774);">5.0%</span>
<span class="t" style="left:108.90px;top:229.00px;font-size:6.8px;color:#5a5a5a;transform:scaleX(0.9831);">India</span>
<span class="t" style="left:206.60px;top:230.00px;font-size:6.8px;color:#5a5a5a;transform:scaleX(0.8774);">3.7%</span>
<span class="t" style="left:85.60px;top:244.00px;font-size:6.8px;color:#5a5a5a;transform:scaleX(0.9435);">New Zealand</span>
<span class="t" style="left:198.10px;top:245.00px;font-size:6.8px;color:#5a5a5a;transform:scaleX(0.8774);">3.3%</span>
<span class="t" style="left:98.40px;top:259.00px;font-size:6.8px;color:#5a5a5a;transform:scaleX(0.9319);">Malaysia</span>
<span class="t" style="left:183.60px;top:259.00px;font-size:6.8px;color:#5a5a5a;transform:scaleX(0.8774);">2.5%</span>
<span class="t" style="left:106.80px;top:274.00px;font-size:6.8px;color:#5a5a5a;transform:scaleX(0.8958);">Japan</span>
<span class="t" style="left:177.00px;top:274.00px;font-size:6.8px;color:#5a5a5a;transform:scaleX(0.8774);">2.2%</span>
<span class="t" style="left:98.40px;top:289.00px;font-size:6.8px;color:#5a5a5a;transform:scaleX(0.9451);">Australia</span>
<span class="t" style="left:159.20px;top:289.00px;font-size:6.8px;color:#5a5a5a;transform:scaleX(0.8774);">1.3%</span>
<span class="t" style="left:101.50px;top:318.00px;font-size:9.6px;color:#4e4e4e;transform:scaleX(1.0313);">NORTH</span>
<span class="t" style="left:97.00px;top:328.50px;font-size:9.6px;color:#4e4e4e;transform:scaleX(1.0064);">AMERICA</span>
<span class="t" style="left:138.95px;top:380.00px;font-size:9.6px;color:#4e4e4e;transform:scaleX(1.0036);">SOUTH</span>
<span class="t" style="left:134.00px;top:390.00px;font-size:9.6px;color:#4e4e4e;transform:scaleX(1.0064);">AMERICA</span>
<span class="t" style="left:196.00px;top:323.70px;font-size:9.6px;color:#4e4e4e;transform:scaleX(0.9869);">EUROPE</span>
<span class="t" style="left:261.00px;top:318.10px;font-size:9.6px;color:#4e4e4e;transform:scaleX(1.0057);">ASIA</span>
<span class="t" style="left:197.50px;top:364.50px;font-size:9.6px;color:#4e4e4e;transform:scaleX(0.9947);">AFRICA</span>
<span class="t" style="left:148.55px;top:344.90px;font-size:6.2px;color:#9a9a9a;transform:scaleX(1.0593);">Atlantic</span>
<span class="t" style="left:152.00px;top:351.40px;font-size:6.2px;color:#9a9a9a;transform:scaleX(0.9871);">Ocean</span>
<span class="t" style="left:241.80px;top:385.60px;font-size:6.2px;color:#9a9a9a;transform:scaleX(1.0083);">Indian</span>
<span class="t" style="left:241.85px;top:392.60px;font-size:6.2px;color:#9a9a9a;transform:scaleX(1.0255);">Ocean</span>
<span class="t" style="left:91.50px;top:437.20px;font-size:4.6px;color:#8a8a8a;transform:scaleX(0.9137);">Microsoft B</span>
<span class="t" style="left:114.60px;top:436.60px;font-size:5.2px;color:#2a2a2a;transform:scaleX(0.9404);">©2022 TomTom, © 2022 Microsoft Corporation,</span>
<span class="t" style="left:218.50px;top:436.60px;font-size:5.2px;color:#3a5fcf;transform:scaleX(0.9358);text-decoration:underline;">© OpenStreetMap</span>
<span class="t" style="left:261.70px;top:436.60px;font-size:5.2px;color:#3a5fcf;transform:scaleX(0.9062);text-decoration:underline;">Terms</span>
<span class="t" style="left:337.85px;top:196.00px;font-size:5.9px;color:#fff;font-weight:700;transform:scaleX(0.9228);">1.7%</span>
<span class="t" style="left:339.75px;top:238.20px;font-size:6.8px;color:#666;transform:scaleX(0.9473);">Q3</span>
<span class="t" style="left:371.75px;top:187.00px;font-size:5.9px;color:#fff;font-weight:700;transform:scaleX(0.9228);">2.2%</span>
<span class="t" style="left:373.65px;top:238.20px;font-size:6.8px;color:#666;transform:scaleX(0.9473);">Q4</span>
<span class="t" style="left:405.45px;top:169.00px;font-size:5.9px;color:#fff;font-weight:700;transform:scaleX(0.9228);">3.3%</span>
<span class="t" style="left:407.35px;top:238.20px;font-size:6.8px;color:#666;transform:scaleX(0.9473);">Q1</span>
<span class="t" style="left:439.05px;top:189.00px;font-size:5.9px;color:#fff;font-weight:700;transform:scaleX(0.9228);">2.1%</span>
<span class="t" style="left:440.95px;top:238.20px;font-size:6.8px;color:#666;transform:scaleX(0.9473);">Q2</span>
<span class="t" style="left:472.95px;top:188.00px;font-size:5.9px;color:#fff;font-weight:700;transform:scaleX(0.9228);">2.1%</span>
<span class="t" style="left:474.85px;top:238.20px;font-size:6.8px;color:#666;transform:scaleX(0.9473);">Q3</span>
<span class="t" style="left:353.75px;top:247.00px;font-size:6.8px;color:#666;transform:scaleX(0.8923);">FY21</span>
<span class="t" style="left:438.35px;top:247.00px;font-size:6.8px;color:#666;transform:scaleX(0.8923);">FY22</span>
<span class="t" style="left:320.15px;top:319.00px;font-size:6.0px;color:#555;transform:scaleX(0.9430);">Cost to Serve $</span>
<span class="t" style="left:382.50px;top:319.00px;font-size:6.0px;color:#555;transform:scaleX(0.8995);">Cost to Serve %</span>
<span class="t" style="left:319.60px;top:341.00px;font-size:6.8px;color:#5a5a5a;transform:scaleX(0.8841);">Brand A...</span>
<span class="t" style="left:356.50px;top:341.00px;font-size:6.8px;color:#5a5a5a;transform:scaleX(0.9324);">Market M...</span>
<span class="t" style="left:398.80px;top:341.00px;font-size:6.8px;color:#5a5a5a;transform:scaleX(0.8941);">Master Tr...</span>
<span class="t" style="left:438.70px;top:341.00px;font-size:6.8px;color:#5a5a5a;transform:scaleX(0.9032);">Merchan...</span>
<span class="t" style="left:478.00px;top:341.00px;font-size:6.8px;color:#5a5a5a;transform:scaleX(0.8940);">Product ...</span>
<span class="t" style="left:329.60px;top:428.90px;font-size:6.8px;color:#666;transform:scaleX(0.9473);">Q3</span>
<span class="t" style="left:368.10px;top:428.90px;font-size:6.8px;color:#666;transform:scaleX(0.9473);">Q4</span>
<span class="t" style="left:406.20px;top:428.90px;font-size:6.8px;color:#666;transform:scaleX(0.9473);">Q1</span>
<span class="t" style="left:444.70px;top:428.90px;font-size:6.8px;color:#666;transform:scaleX(0.9473);">Q2</span>
<span class="t" style="left:483.00px;top:428.90px;font-size:6.8px;color:#666;transform:scaleX(0.9473);">Q3</span>
<span class="t" style="left:346.25px;top:437.60px;font-size:6.8px;color:#666;transform:scaleX(0.8923);">FY21</span>
<span class="t" style="left:441.95px;top:437.60px;font-size:6.8px;color:#666;transform:scaleX(0.8923);">FY22</span>
<span class="t" style="left:541.70px;top:183.30px;font-size:5.8px;color:#fff;transform:scaleX(0.9302);">$3.1M</span>
<span class="t" style="left:585.70px;top:160.40px;font-size:5.8px;color:#fff;transform:scaleX(0.9302);">$3.1M</span>
<span class="t" style="left:629.15px;top:166.20px;font-size:5.8px;color:#fff;transform:scaleX(0.9302);">$3.4M</span>
<span class="t" style="left:673.00px;top:170.40px;font-size:5.8px;color:#fff;transform:scaleX(0.9302);">$2.9M</span>
<span class="t" style="left:716.80px;top:161.50px;font-size:5.8px;color:#fff;transform:scaleX(0.9302);">$3.5M</span>
<span class="t" style="left:544.60px;top:193.60px;font-size:6.8px;color:#666;transform:scaleX(0.9473);">Q3</span>
<span class="t" style="left:588.60px;top:193.60px;font-size:6.8px;color:#666;transform:scaleX(0.9473);">Q4</span>
<span class="t" style="left:632.20px;top:193.60px;font-size:6.8px;color:#666;transform:scaleX(0.9473);">Q1</span>
<span class="t" style="left:675.90px;top:193.60px;font-size:6.8px;color:#666;transform:scaleX(0.9473);">Q2</span>
<span class="t" style="left:719.50px;top:193.60px;font-size:6.8px;color:#666;transform:scaleX(0.9473);">Q3</span>
<span class="t" style="left:563.95px;top:202.70px;font-size:6.8px;color:#666;transform:scaleX(0.8923);">FY21</span>
<span class="t" style="left:672.95px;top:202.70px;font-size:6.8px;color:#666;transform:scaleX(0.8923);">FY22</span>
<span class="t" style="left:596.40px;top:270.40px;font-size:6.5px;color:#5a5a5a;transform:scaleX(0.9297);">Revenue</span>
<span class="t" style="left:630.00px;top:270.40px;font-size:6.5px;color:#5a5a5a;transform:scaleX(0.9445);">Covered Revenue</span>
<span class="t" style="left:536.00px;top:299.40px;font-size:6.5px;color:#666;transform:scaleX(0.9552);">$0.2bn</span>
<span class="t" style="left:536.00px;top:333.60px;font-size:6.5px;color:#666;transform:scaleX(0.9552);">$0.0bn</span>
<span class="t" style="left:581.10px;top:340.10px;font-size:6.8px;color:#666;transform:scaleX(0.9473);">Q3</span>
<span class="t" style="left:612.50px;top:340.10px;font-size:6.8px;color:#666;transform:scaleX(0.9473);">Q4</span>
<span class="t" style="left:643.50px;top:340.10px;font-size:6.8px;color:#666;transform:scaleX(0.9473);">Q1</span>
<span class="t" style="left:674.90px;top:340.10px;font-size:6.8px;color:#666;transform:scaleX(0.9473);">Q2</span>
<span class="t" style="left:706.30px;top:340.10px;font-size:6.8px;color:#666;transform:scaleX(0.9473);">Q3</span>
<span class="t" style="left:593.15px;top:349.10px;font-size:6.8px;color:#666;transform:scaleX(0.8923);">FY21</span>
<span class="t" style="left:672.25px;top:349.10px;font-size:6.8px;color:#666;transform:scaleX(0.8923);">FY22</span>
<span class="t" style="left:613.60px;top:416.00px;font-size:16.8px;color:#d9b300;transform:scaleX(0.8784);-webkit-text-stroke:0.35px #d9b300;">2.1%</span>
<span class="t" style="left:649.40px;top:422.00px;font-size:8.8px;color:#d9b300;font-weight:700;">!</span>
<span class="t" style="left:596.30px;top:434.20px;font-size:6.4px;color:#333;transform:scaleX(0.9663);">Last Quarter: 2.1% (-0.0%)</span>
<span class="t" style="left:177.30px;top:533.00px;font-size:7.8px;color:#303030;transform:scaleX(1.0032);-webkit-text-stroke:0.18px #303030;">Country</span>
<span class="t" style="left:256.80px;top:533.00px;font-size:7.8px;color:#303030;transform:scaleX(0.9109);-webkit-text-stroke:0.18px #303030;">Type</span>
<span class="t" style="left:336.20px;top:533.00px;font-size:7.8px;color:#303030;transform:scaleX(1.0250);-webkit-text-stroke:0.18px #303030;">Sub-type</span>
<span class="t" style="left:416.00px;top:533.00px;font-size:7.8px;color:#303030;-webkit-text-stroke:0.18px #303030;">Partner</span>
<span class="t" style="left:179.70px;top:584.70px;font-size:6.6px;color:#333;transform:scaleX(0.8859);">Korea</span>
<span class="t" style="left:179.70px;top:592.30px;font-size:6.6px;color:#666;transform:scaleX(0.9268);">$1,024,150</span>
<span class="t" style="left:259.30px;top:584.70px;font-size:6.6px;color:#222;font-weight:700;transform:scaleX(1.0056);">Market Manager</span>
<span class="t" style="left:259.30px;top:592.30px;font-size:6.6px;color:#666;transform:scaleX(0.9086);">$475,708</span>
<span class="t" style="left:339.00px;top:584.70px;font-size:6.6px;color:#222;font-weight:700;transform:scaleX(0.9154);">Physical</span>
<span class="t" style="left:339.00px;top:592.30px;font-size:6.6px;color:#666;transform:scaleX(0.9086);">$438,739</span>
<span class="t" style="left:418.30px;top:584.70px;font-size:6.6px;color:#333;transform:scaleX(0.9659);">Noel Leeming</span>
<span class="t" style="left:418.30px;top:592.30px;font-size:6.6px;color:#666;transform:scaleX(0.9086);">$199,179</span>
<span class="t" style="left:100.00px;top:617.20px;font-size:6.6px;color:#222;font-weight:700;transform:scaleX(0.9003);">Costs</span>
<span class="t" style="left:179.70px;top:617.20px;font-size:6.6px;color:#222;font-weight:700;transform:scaleX(0.9054);">New Zealand</span>
<span class="t" style="left:259.30px;top:617.20px;font-size:6.6px;color:#333;transform:scaleX(0.9644);">Master Trainer</span>
<span class="t" style="left:339.00px;top:617.20px;font-size:6.6px;color:#333;transform:scaleX(0.9958);">Virtual</span>
<span class="t" style="left:418.30px;top:617.20px;font-size:6.6px;color:#333;transform:scaleX(0.9421);">Harvey Norman</span>
<span class="t" style="left:508.40px;top:523.70px;font-size:5.6px;color:#5a5a5a;transform:scaleX(0.8999);">ALL IT HYPER...</span>
<span class="t" style="left:555.50px;top:523.70px;font-size:5.6px;color:#5a5a5a;transform:scaleX(1.0048);">Banana IT/Com7</span>
<span class="t" style="left:606.60px;top:523.70px;font-size:5.6px;color:#5a5a5a;">Best Denki</span>
<span class="t" style="left:642.10px;top:523.70px;font-size:5.6px;color:#5a5a5a;transform:scaleX(1.0162);">Challenger</span>
<span class="t" style="left:678.80px;top:523.70px;font-size:5.6px;color:#5a5a5a;transform:scaleX(0.9533);">Courts - Singap...</span>
</div>
</body></html>
